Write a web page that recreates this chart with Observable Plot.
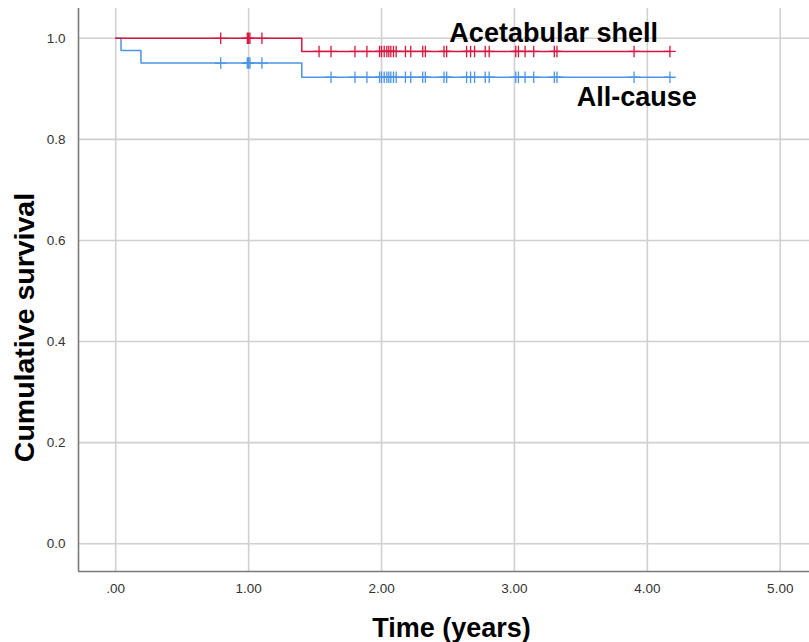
<!DOCTYPE html>
<html><head><meta charset="utf-8">
<script src="https://cdn.jsdelivr.net/npm/d3@7"></script>
<script src="https://cdn.jsdelivr.net/npm/@observablehq/plot@0.6"></script>
<style>html,body{margin:0;padding:0;background:#fff}#chart svg{display:block}</style>
</head><body><div id="chart"></div><script>
// Kaplan-Meier step curves (event times and survival after each step)
const seriesNames = ["Acetabular shell", "All-cause"];
const shellTimes = [0, 1.40, 4.17];
const shellSurvival = [1.0, 0.974, 0.974];
const allTimes = [0, 0.04, 0.19, 1.40, 4.17];
const allSurvival = [1.0, 0.976, 0.951, 0.923, 0.923];
// Censored observation times (years)
const shellCensored = [0.79, 0.99, 1.0, 1.01, 1.10, 1.53, 1.62, 1.80, 1.89, 1.985, 2.0, 2.02, 2.04, 2.055, 2.07, 2.09, 2.11, 2.18, 2.22, 2.31, 2.33, 2.47, 2.49, 2.64, 2.67, 2.70, 2.78, 2.81, 3.01, 3.03, 3.08, 3.145, 3.30, 3.32, 3.90, 4.17];
const allCensored = [0.79, 0.99, 1.0, 1.01, 1.10, 1.62, 1.80, 1.89, 1.985, 2.0, 2.02, 2.04, 2.055, 2.07, 2.09, 2.11, 2.18, 2.22, 2.31, 2.33, 2.47, 2.49, 2.64, 2.67, 2.70, 2.78, 2.81, 3.01, 3.03, 3.08, 3.145, 3.30, 3.32, 3.90, 4.17];
// Axes
const xTicks = [0, 1, 2, 3, 4, 5];
const xTickLabels = [".00", "1.00", "2.00", "3.00", "4.00", "5.00"];
const yTicks = [0, 0.2, 0.4, 0.6, 0.8, 1.0];
const yTickLabels = ["0.0", "0.2", "0.4", "0.6", "0.8", "1.0"];
const xDomain = [-0.28, 5.22];
const yDomain = [-0.055, 1.059];
const xTitle = "Time (years)";
const yTitle = "Cumulative survival";
// Curve labels (data coordinates)
const labelX = [3.295, 3.92];
const labelY = [1.0095, 0.883];
const colors = ["#d6163e", "#4b94e6"];

const toRows = (times, surv) => times.map((t, i) => ({t, s: surv[i]}));
const survAt = (times, surv, t) => { let s = surv[0]; for (let i = 0; i < times.length; i++) if (times[i] <= t) s = surv[i]; return s; };
const shellLine = toRows(shellTimes, shellSurvival);
const allLine = toRows(allTimes, allSurvival);
const shellC = shellCensored.map(t => ({t, s: survAt(shellTimes, shellSurvival, t)}));
const allC = allCensored.map(t => ({t, s: survAt(allTimes, allSurvival, t)}));
const labels = seriesNames.map((name, i) => ({name, x: labelX[i], y: labelY[i]}));
const font = "'Liberation Sans', Arial, sans-serif";

const chart = Plot.plot({
  width: 809, height: 642,
  marginLeft: 78, marginTop: 8, marginBottom: 71, marginRight: 0,
  style: {fontFamily: font, fontSize: "13.5px", color: "#333", background: "#fff"},
  x: {domain: xDomain, ticks: xTicks, tickFormat: d => xTickLabels[xTicks.indexOf(d)], tickSize: 0, tickPadding: 12, label: null},
  y: {domain: yDomain, ticks: yTicks, tickFormat: d => yTickLabels[yTicks.findIndex(v => Math.abs(v - d) < 1e-9)], tickSize: 0, tickPadding: 13, label: null},
  marks: [
    Plot.ruleX(xTicks, {stroke: "#d0d0d0", strokeWidth: 1.6}),
    Plot.ruleY(yTicks, {stroke: "#d0d0d0", strokeWidth: 1.6}),
    Plot.ruleX([xDomain[0]], {stroke: "#7a7a7a", strokeWidth: 1.6}),
    Plot.ruleY([yDomain[0]], {stroke: "#7a7a7a", strokeWidth: 1.6}),
    Plot.line(allLine, {x: "t", y: "s", curve: "step-after", stroke: colors[1], strokeWidth: 1.5}),
    Plot.line(shellLine, {x: "t", y: "s", curve: "step-after", stroke: colors[0], strokeWidth: 1.5}),
    Plot.dot(allC, {x: "t", y: "s", symbol: "plus", r: 3.8, stroke: colors[1], strokeWidth: 1.3}),
    Plot.dot(shellC, {x: "t", y: "s", symbol: "plus", r: 3.8, stroke: colors[0], strokeWidth: 1.3}),
    Plot.text(labels, {x: "x", y: "y", text: "name", textAnchor: "middle", lineAnchor: "middle", fontFamily: font, fontSize: 27, fontWeight: "bold", fill: "#000"}),
    Plot.text([xTitle], {text: d => d, frameAnchor: "bottom", textAnchor: "middle", lineAnchor: "middle", dx: 7.5, dy: 56.4, fontFamily: font, fontSize: 27, fontWeight: "bold", fill: "#000"}),
    Plot.text([yTitle], {text: d => d, frameAnchor: "left", textAnchor: "middle", lineAnchor: "middle", rotate: -90, dx: -54, dy: 37.5, fontFamily: font, fontSize: 28.5, fontWeight: "bold", fill: "#000"})
  ]
});
document.getElementById("chart").appendChild(chart);
</script></body></html>
